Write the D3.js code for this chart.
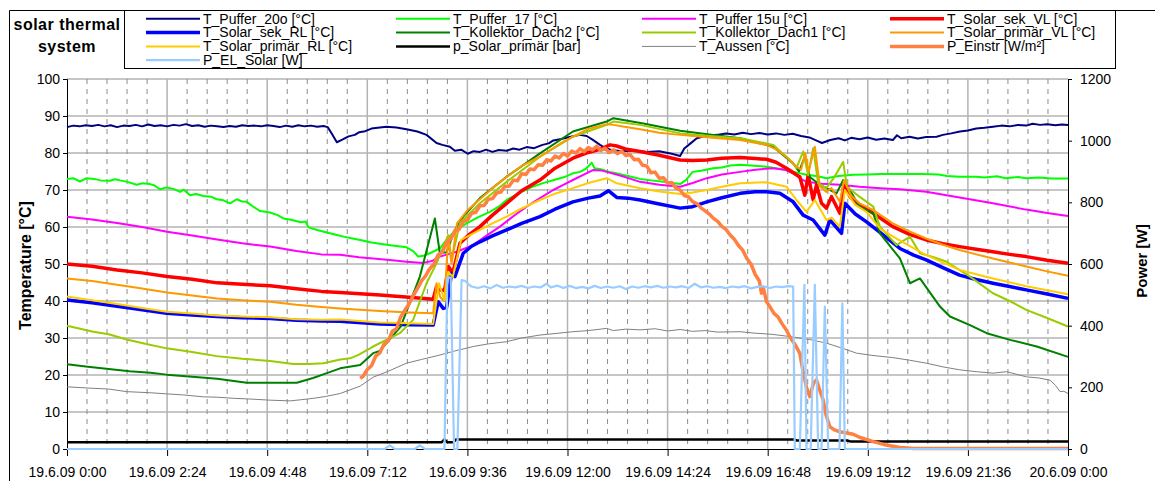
<!DOCTYPE html>
<html>
<head>
<meta charset="utf-8">
<script src="https://cdn.jsdelivr.net/npm/d3@7"></script>
<style>
  body { margin: 0; background: #fff; }
  svg { display: block; font-family: "Liberation Sans", Arial, sans-serif; }
</style>
</head>
<body>
<svg id="chart" width="1155" height="481"></svg>
<script>
// ---- measurement data, 19.6.09 (hour of day, value) ----
const tPuffer20o = [[0,87.0],[0.15,87.4],[0.3,87.2],[0.45,87.5],[0.6,87.3],[0.75,87.6],[0.9,87.2],[1.05,87.5],[1.2,87.0],[1.35,87.4],[1.5,87.3],[1.65,87.6],[1.8,87.2],[1.95,87.7],[2.1,87.3],[2.25,87.5],[2.4,87.2],[2.55,87.6],[2.7,87.4],[2.85,87.8],[3.0,87.3],[3.15,87.5],[3.3,87.1],[3.45,87.4],[3.6,87.2],[3.75,87.0],[3.9,87.3],[4.05,87.1],[4.2,87.5],[4.35,87.3],[4.5,87.4],[4.65,87.2],[4.8,87.5],[4.95,87.3],[5.1,87.0],[5.25,87.4],[5.4,87.1],[5.55,87.5],[5.7,87.2],[5.85,87.4],[6.0,87.1],[6.15,87.3],[6.25,87.0],[6.35,85.2],[6.47,82.9],[6.6,83.6],[6.75,84.5],[6.9,84.9],[7.0,85.6],[7.15,85.9],[7.3,86.6],[7.45,86.8],[7.66,87.1],[7.9,86.9],[8.14,86.4],[8.4,85.8],[8.62,84.9],[8.86,82.7],[9.0,82.2],[9.18,81.7],[9.3,80.6],[9.45,80.9],[9.61,79.8],[9.75,80.5],[9.9,80.3],[10.05,80.9],[10.2,80.3],[10.35,80.8],[10.54,80.6],[10.7,81.2],[10.85,80.9],[11.02,81.6],[11.2,81.3],[11.4,82.2],[11.55,82.6],[11.66,83.4],[11.85,83.8],[12.0,84.2],[12.13,84.5],[12.3,84.9],[12.46,84.6],[12.6,83.6],[12.78,82.2],[12.9,81.4],[13.05,80.8],[13.3,80.5],[13.6,80.7],[13.9,80.3],[14.2,80.5],[14.5,79.8],[14.7,79.2],[14.8,81.2],[14.95,82.6],[15.1,84.0],[15.3,84.6],[15.58,84.9],[15.8,85.3],[16.0,85.0],[16.2,85.5],[16.4,85.1],[16.6,85.4],[16.8,85.0],[17.0,85.3],[17.2,84.9],[17.4,85.2],[17.6,84.6],[17.8,84.2],[18.0,83.2],[18.1,82.7],[18.3,83.5],[18.5,84.0],[18.65,83.4],[18.8,84.1],[19.0,83.7],[19.2,84.2],[19.4,83.6],[19.6,83.9],[19.8,83.5],[19.9,84.8],[20.0,84.0],[20.2,84.4],[20.4,83.9],[20.6,84.3],[20.85,84.4],[21.0,84.9],[21.2,85.3],[21.41,85.8],[21.6,86.1],[21.8,86.6],[22.0,86.8],[22.2,87.1],[22.4,87.4],[22.6,87.2],[22.8,87.6],[23.0,87.4],[23.15,87.9],[23.33,87.6],[23.5,87.8],[23.7,87.5],[23.85,87.7],[24,87.6]];

const tPuffer17 = [[0,73.0],[0.15,73.2],[0.31,72.3],[0.47,73.2],[0.65,73.0],[0.8,72.6],[1.03,72.5],[1.15,72.9],[1.27,72.6],[1.45,72.2],[1.67,71.4],[1.8,71.8],[1.99,71.6],[2.1,71.2],[2.23,70.2],[2.39,70.7],[2.55,70.3],[2.71,69.5],[2.8,70.1],[2.95,68.6],[3.1,68.9],[3.27,68.4],[3.45,68.2],[3.59,67.5],[3.75,67.2],[3.91,66.4],[4.07,67.5],[4.2,66.9],[4.31,66.8],[4.45,65.6],[4.63,64.3],[4.87,63.9],[5.05,63.2],[5.19,62.3],[5.4,61.9],[5.6,61.3],[5.72,61.5],[5.79,59.9],[6.0,59.2],[6.23,58.5],[6.45,57.9],[6.63,57.4],[6.85,56.9],[7.03,56.5],[7.3,55.8],[7.5,55.5],[7.8,55.0],[8.14,54.5],[8.3,53.5],[8.42,52.0],[8.55,52.2],[8.7,52.9],[8.94,54.2],[9.1,56.5],[9.3,59.0],[9.58,61.0],[9.85,62.6],[10.14,64.1],[10.35,65.5],[10.54,67.3],[10.85,69.2],[11.17,70.9],[11.45,72.0],[11.74,72.9],[11.95,73.6],[12.13,74.5],[12.3,74.9],[12.45,75.8],[12.58,77.4],[12.65,75.9],[12.8,75.6],[13.0,74.9],[13.18,74.5],[13.45,73.8],[13.74,73.0],[14.0,72.6],[14.3,72.2],[14.7,71.6],[14.85,72.8],[15.0,74.9],[15.2,75.2],[15.49,75.9],[15.7,76.1],[15.9,76.6],[16.14,76.8],[16.4,76.6],[16.77,76.3],[17.0,75.9],[17.25,75.4],[17.5,74.7],[17.73,74.1],[18.0,73.7],[18.21,73.2],[18.5,73.8],[18.85,74.1],[19.2,74.2],[19.5,74.3],[20.0,74.3],[20.5,74.3],[20.9,74.2],[21.1,73.8],[21.4,73.6],[21.8,73.6],[22.0,73.4],[22.3,73.7],[22.5,73.2],[22.8,73.5],[23.0,73.2],[23.3,73.4],[23.6,73.1],[24,73.1]];

const tPuffer15u = [[0,62.8],[0.6,62.0],[1.2,61.1],[1.8,60.0],[2.4,58.7],[3.0,57.7],[3.6,56.6],[4.2,55.6],[4.87,54.7],[5.5,53.5],[6.1,52.6],[6.55,52.5],[7.0,51.8],[7.34,51.5],[7.8,51.0],[8.14,50.6],[8.54,50.3],[8.75,50.8],[8.94,52.0],[9.34,53.3],[9.74,55.1],[10.05,57.6],[10.38,60.1],[10.7,62.9],[11.02,65.5],[11.35,67.9],[11.66,70.0],[11.9,71.4],[12.13,72.7],[12.4,74.2],[12.61,75.4],[12.8,75.3],[12.94,74.9],[13.3,73.8],[13.74,72.2],[14.2,71.4],[14.7,70.9],[15.0,71.9],[15.34,73.2],[15.7,74.2],[16.14,74.9],[16.5,75.5],[16.93,75.9],[17.2,75.5],[17.41,74.5],[17.6,73.0],[17.73,72.2],[18.1,71.7],[18.53,71.4],[19.0,70.9],[19.5,70.5],[19.97,70.2],[20.6,69.5],[21.4,68.0],[22.2,66.4],[23.0,64.7],[23.5,63.8],[24,63.0]];

const tSolarSekVL = [[0,50.0],[0.6,49.4],[1.2,48.4],[1.8,47.6],[2.4,46.6],[3.0,45.9],[3.6,44.9],[4.2,44.5],[4.87,44.1],[5.5,43.3],[6.1,42.6],[6.55,42.3],[7.5,41.6],[8.2,41.0],[8.78,40.5],[8.86,43.9],[8.95,43.0],[9.05,42.8],[9.15,49.3],[9.25,47.5],[9.42,55.6],[9.65,58.0],[9.9,60.1],[10.2,63.2],[10.54,66.4],[10.9,69.8],[11.34,72.7],[11.7,75.9],[12.13,78.6],[12.45,80.0],[12.78,81.0],[13.02,82.2],[13.18,81.9],[13.42,81.0],[13.74,80.4],[14.2,79.4],[14.7,78.1],[15.0,78.0],[15.34,78.1],[15.7,78.6],[16.14,78.8],[16.5,78.5],[16.77,78.3],[17.0,77.5],[17.25,75.9],[17.49,74.1],[17.57,73.6],[17.69,68.6],[17.77,74.0],[17.89,67.3],[17.97,71.4],[18.09,66.4],[18.21,65.1],[18.33,68.2],[18.53,63.7],[18.63,71.8],[18.77,68.2],[19.0,66.0],[19.33,63.7],[19.8,60.1],[20.2,58.0],[20.6,56.5],[21.0,55.5],[21.4,54.7],[21.8,54.0],[22.2,53.3],[22.6,52.6],[23.0,52.0],[23.5,51.0],[24,50.2]];

const tSolarSekRL = [[0,40.3],[0.6,39.5],[1.2,38.6],[1.8,37.6],[2.39,36.7],[3.0,36.2],[3.6,35.8],[4.2,35.5],[4.87,35.3],[5.5,34.8],[6.1,34.6],[6.55,34.5],[7.5,33.8],[8.2,33.6],[8.78,33.5],[8.9,39.8],[9.02,38.0],[9.1,38.2],[9.22,47.5],[9.3,46.6],[9.5,52.9],[9.7,54.8],[9.9,56.0],[10.2,57.6],[10.54,59.2],[10.9,61.0],[11.34,62.8],[11.7,64.8],[12.13,66.8],[12.5,67.8],[12.78,68.4],[12.98,69.8],[13.18,68.0],[13.45,67.8],[13.74,67.3],[14.2,66.2],[14.7,65.1],[15.0,65.5],[15.34,66.8],[15.7,67.9],[16.14,69.1],[16.5,69.5],[16.77,69.5],[17.09,69.1],[17.41,66.8],[17.65,63.2],[17.89,61.9],[18.17,57.8],[18.29,61.9],[18.57,58.3],[18.65,66.4],[18.9,63.5],[19.17,61.4],[19.5,58.5],[19.97,54.2],[20.3,52.4],[20.6,51.1],[21.0,49.0],[21.4,47.0],[21.8,45.8],[22.2,44.8],[22.6,43.9],[23.0,43.0],[23.5,41.9],[24,40.7]];

const tKollektorDach2 = [[0,22.9],[0.5,22.2],[1.0,21.6],[1.5,21.0],[2.0,20.6],[2.39,20.1],[3.0,19.5],[3.6,19.0],[4.31,17.9],[5.0,17.9],[5.51,17.9],[5.9,19.2],[6.23,20.5],[6.55,21.8],[7.03,22.7],[7.34,25.9],[7.5,26.5],[8.0,33.1],[8.46,46.6],[8.82,62.3],[8.94,52.9],[9.1,53.2],[9.3,59.2],[9.5,62.8],[9.9,67.8],[10.54,73.6],[11.34,79.9],[12.13,85.8],[12.94,88.5],[13.1,89.4],[13.82,88.0],[14.7,86.0],[15.4,85.0],[16.14,84.0],[16.93,81.7],[17.41,77.2],[17.55,75.0],[17.69,79.0],[17.81,73.5],[18.05,71.4],[18.3,70.0],[18.45,69.1],[18.61,72.7],[18.77,70.0],[19.0,65.5],[19.33,63.7],[19.49,58.3],[19.97,51.5],[20.21,44.8],[20.45,46.1],[20.93,38.5],[21.17,35.8],[21.65,33.5],[22.05,31.3],[22.61,29.5],[23.25,27.7],[24,24.9]];

const tKollektorDach1 = [[0,33.3],[0.63,31.7],[1.0,31.0],[1.43,29.6],[1.9,28.4],[2.39,27.2],[3.0,26.2],[3.59,25.1],[4.2,24.4],[4.87,23.8],[5.43,23.0],[5.8,23.0],[6.15,23.2],[6.55,24.2],[6.79,24.5],[7.0,25.5],[7.34,27.7],[7.98,31.3],[8.3,34.9],[8.62,44.8],[8.86,50.2],[9.14,57.8],[9.22,51.1],[9.42,61.0],[9.9,66.4],[10.54,72.2],[11.34,79.0],[12.13,84.4],[12.94,87.6],[13.1,88.5],[13.74,87.6],[14.7,85.3],[15.4,84.6],[16.14,84.0],[16.93,82.2],[17.33,78.1],[17.49,76.0],[17.65,80.4],[17.77,74.0],[17.89,81.3],[18.01,71.8],[18.2,70.5],[18.37,73.0],[18.61,77.6],[18.7,70.9],[19.0,68.2],[19.33,65.5],[19.49,60.1],[19.89,55.1],[20.21,57.4],[20.45,52.9],[20.8,51.8],[21.09,50.6],[21.65,46.6],[22.2,42.1],[22.6,40.0],[23.0,37.6],[23.5,35.4],[24,33.1]];

const tSolarPrimaerVL = [[0,46.1],[0.6,45.4],[1.2,44.4],[1.8,43.4],[2.4,42.3],[3.0,41.5],[3.6,40.7],[4.2,40.2],[4.87,39.8],[5.5,39.0],[6.1,38.4],[6.55,38.0],[7.5,37.3],[8.2,36.9],[8.78,36.7],[8.86,44.8],[8.95,41.0],[9.05,40.0],[9.14,57.4],[9.22,50.0],[9.35,61.0],[9.6,64.5],[9.9,67.5],[10.2,70.5],[10.54,73.5],[10.9,76.5],[11.34,79.0],[11.82,82.5],[12.13,84.4],[12.5,86.5],[12.94,87.8],[13.1,87.6],[13.4,87.0],[13.74,86.4],[14.2,85.5],[14.7,84.9],[15.4,84.2],[16.14,83.5],[16.77,82.2],[17.0,81.0],[17.25,79.0],[17.49,76.3],[17.6,75.5],[17.7,80.0],[17.78,75.0],[17.93,81.7],[18.05,71.0],[18.2,69.5],[18.33,70.5],[18.53,66.8],[18.63,72.7],[18.8,68.5],[19.0,66.4],[19.33,64.6],[19.8,61.0],[20.2,58.8],[20.6,56.9],[21.0,55.2],[21.4,53.8],[21.8,52.6],[22.2,51.5],[22.6,50.4],[23.0,49.3],[23.5,48.0],[24,46.8]];

const tSolarPrimaerRL = [[0,41.2],[0.6,40.2],[1.2,39.2],[1.8,38.1],[2.39,37.1],[3.0,36.6],[3.6,36.1],[4.2,35.8],[4.87,35.6],[5.5,35.1],[6.1,34.9],[6.55,35.0],[7.5,34.2],[8.2,34.0],[8.78,33.8],[8.92,44.8],[9.05,40.3],[9.14,47.9],[9.25,46.5],[9.45,56.5],[9.9,59.2],[10.2,61.0],[10.54,62.8],[10.9,65.0],[11.34,67.3],[11.7,69.0],[12.13,70.5],[12.5,71.9],[12.94,73.2],[13.18,71.8],[13.74,70.5],[14.2,69.6],[14.7,68.9],[15.0,69.3],[15.34,70.0],[15.7,70.9],[16.14,71.8],[16.77,72.1],[17.25,70.9],[17.49,67.3],[17.73,64.1],[17.93,67.3],[18.21,61.9],[18.33,62.5],[18.53,60.1],[18.65,70.0],[18.9,66.0],[19.17,64.1],[19.5,59.5],[19.9,56.8],[20.6,52.4],[21.4,48.4],[22.2,46.1],[23.0,44.0],[23.5,42.9],[24,41.8]];

const pSolarPrimaer = [[0,1.8],[8.98,1.8],[9.05,2.6],[9.12,1.8],[9.26,1.8],[9.33,2.6],[17.43,2.6],[17.5,2.3],[18.7,2.3],[18.8,2.0],[24,2.0]];

const tAussen = [[0,16.8],[0.63,16.4],[1.0,16.2],[1.43,15.5],[2.0,15.2],[2.39,14.9],[2.8,14.6],[3.27,14.1],[3.6,14.0],[3.99,13.7],[4.4,13.5],[4.87,13.2],[5.35,13.0],[5.6,13.3],[5.91,13.7],[6.2,14.2],[6.55,15.0],[7.03,17.0],[7.34,19.4],[7.7,21.0],[8.14,23.2],[8.5,24.2],[8.94,25.4],[9.3,26.5],[9.74,27.7],[10.1,28.4],[10.54,29.0],[10.9,30.0],[11.34,30.8],[11.7,31.2],[12.13,31.7],[12.5,32.0],[12.94,32.6],[13.1,32.0],[13.4,32.4],[13.74,32.2],[14.1,32.5],[14.4,31.9],[14.7,32.3],[15.0,31.8],[15.3,32.0],[15.6,31.6],[16.14,31.7],[16.5,31.3],[16.9,31.0],[17.33,30.4],[17.8,29.6],[18.21,28.6],[18.6,27.2],[18.93,25.9],[19.3,25.3],[19.8,24.7],[20.2,24.0],[20.6,23.2],[21.0,22.2],[21.4,21.4],[21.8,20.9],[22.2,20.5],[22.53,20.9],[22.8,20.1],[23.0,19.5],[23.3,19.2],[23.57,18.6],[23.7,17.2],[23.81,15.5],[23.9,15.6],[24,15.0]];

const pEinstr = [[7.03,229],[7.1,236],[7.2,258],[7.3,270],[7.4,301],[7.5,312],[7.6,340],[7.7,350],[7.8,382],[7.9,390],[8.0,428],[8.1,450],[8.2,470],[8.3,497],[8.4,520],[8.5,545],[8.6,562],[8.7,585],[8.8,600],[8.9,630],[9.0,638],[9.1,670],[9.2,680],[9.3,708],[9.4,712],[9.5,738],[9.6,742],[9.7,764],[9.8,768],[9.9,789],[10.0,790],[10.1,810],[10.2,812],[10.3,830],[10.4,833],[10.5,852],[10.6,852],[10.7,872],[10.8,870],[10.9,893],[11.0,890],[11.1,908],[11.2,906],[11.3,922],[11.4,920],[11.5,938],[11.6,934],[11.7,950],[11.8,944],[11.9,958],[12.0,950],[12.1,966],[12.2,960],[12.3,974],[12.4,964],[12.5,978],[12.6,970],[12.7,982],[12.8,968],[12.9,975],[13.0,962],[13.1,970],[13.2,958],[13.3,966],[13.4,952],[13.5,955],[13.6,938],[13.7,940],[13.8,920],[13.9,918],[14.0,896],[14.1,898],[14.2,878],[14.3,880],[14.4,862],[14.5,864],[14.6,846],[14.7,840],[14.8,822],[14.9,818],[15.0,802],[15.1,796],[15.2,782],[15.3,772],[15.4,762],[15.5,748],[15.6,738],[15.7,722],[15.8,712],[15.9,694],[16.0,680],[16.1,660],[16.2,645],[16.3,618],[16.4,600],[16.5,566],[16.6,545],[16.65,505],[16.7,520],[16.77,478],[16.85,462],[16.95,440],[17.05,428],[17.15,405],[17.25,385],[17.33,364],[17.45,340],[17.57,310],[17.65,250],[17.73,200],[17.81,170],[17.9,215],[17.97,224],[18.05,190],[18.13,159],[18.2,110],[18.29,72],[18.4,62],[18.53,56],[18.7,52],[18.85,48],[19.0,38],[19.33,24],[19.6,14],[19.97,5],[20.3,2],[24,2]];

const pElSolar = [[0,0],[7.62,0],[7.74,12],[7.86,0],[8.34,0],[8.46,12],[8.58,0],[9.05,0],[9.12,556],[9.2,556],[9.28,0],[9.36,0],[9.46,548],[9.55,545],[9.62,535],[9.7,527],[9.85,522],[10.0,528],[10.15,521],[10.3,532],[10.45,523],[10.6,527],[10.75,524],[10.9,529],[11.05,522],[11.2,527],[11.35,524],[11.5,536],[11.6,524],[11.75,530],[11.9,522],[12.05,529],[12.2,522],[12.35,526],[12.5,521],[12.65,529],[12.8,522],[12.95,527],[13.1,523],[13.25,528],[13.4,519],[13.55,527],[13.7,523],[13.85,528],[14.0,524],[14.15,529],[14.3,523],[14.45,527],[14.6,524],[14.75,528],[14.9,522],[15.05,536],[15.2,524],[15.35,528],[15.5,523],[15.65,526],[15.8,522],[15.95,527],[16.1,524],[16.25,528],[16.4,521],[16.55,526],[16.7,528],[16.85,522],[17.0,527],[17.15,525],[17.3,528],[17.41,527],[17.45,0],[17.57,0],[17.68,532],[17.73,0],[17.83,0],[17.93,532],[18.01,0],[18.09,0],[18.17,462],[18.25,0],[18.52,0],[18.59,472],[18.65,0],[24,0]];

// ---- axis ticks and labels ----
const tempTicks = [0,10,20,30,40,50,60,70,80,90,100];
const powerTicks = [0,200,400,600,800,1000,1200];
const timeTickHours = [0,2.4,4.8,7.2,9.6,12,14.4,16.8,19.2,21.6,24];
const timeTickLabels = ["19.6.09 0:00","19.6.09 2:24","19.6.09 4:48","19.6.09 7:12","19.6.09 9:36","19.6.09 12:00","19.6.09 14:24","19.6.09 16:48","19.6.09 19:12","19.6.09 21:36","20.6.09 0:00"];

// ---- series: label, data, axis ----
const seriesNames = ["T_Puffer_20o [°C]","T_Puffer_17 [°C]","T_Puffer 15u [°C]","T_Solar_sek_VL [°C]",
  "T_Solar_sek_RL [°C]","T_Kollektor_Dach2 [°C]","T_Kollektor_Dach1 [°C]","T_Solar_primär_VL [°C]",
  "T_Solar_primär_RL [°C]","p_Solar_primär [bar]","T_Aussen [°C]","P_Einstr [W/m²]","P_EL_Solar [W]"];
const seriesData = [tPuffer20o,tPuffer17,tPuffer15u,tSolarSekVL,tSolarSekRL,tKollektorDach2,tKollektorDach1,
  tSolarPrimaerVL,tSolarPrimaerRL,pSolarPrimaer,tAussen,pEinstr,pElSolar];
const seriesAxis = ["T","T","T","T","T","T","T","T","T","T","T","P","P"];

// ---- styles ----
const seriesColors = ["#000080","#00ff00","#ff00ff","#ff0000","#0000ff","#008000","#99cc00","#ff9900","#ffcc00","#000000","#808080","#ff8040","#99ccff"];
const seriesWidths = [2,2,2,3.5,3.5,2,2,2,2,2.5,1,3.5,2.2];

const svg = d3.select("#chart");
const P = { left: 67, right: 1068, top: 79, bottom: 449 };

const x = d3.scaleLinear().domain([0, 24]).range([P.left, P.right]);
const yT = d3.scaleLinear().domain([0, 100]).range([P.bottom, P.top]);
const yP = d3.scaleLinear().domain([0, 1200]).range([P.bottom, P.top]);

// outer frame
svg.append("path").attr("d", `M9.5,481 V10.5 H1155`).attr("fill", "none").attr("stroke", "#000").attr("stroke-width", 1);

// gridlines
const grid = svg.append("g");
tempTicks.filter(v => v > 0).forEach(v => {
  grid.append("line").attr("x1", P.left).attr("x2", P.right).attr("y1", yT(v)).attr("y2", yT(v))
    .attr("stroke", "#b3b3b3").attr("stroke-width", 1.5);
});
d3.range(1, 50).forEach(i => {
  const h = i * 0.48;
  const major = i % 5 === 0;
  grid.append("line").attr("x1", x(h)).attr("x2", x(h)).attr("y1", P.top).attr("y2", P.bottom)
    .attr("stroke", major ? "#b3b3b3" : "#8c8c8c")
    .attr("stroke-width", major ? 1.5 : 1)
    .attr("stroke-dasharray", major ? null : "5,5");
});

// axes
const axisFont = g => g.selectAll("text").attr("font-size", 14).attr("fill", "#000")
  .attr("font-family", '"Liberation Sans", Arial, sans-serif');

svg.append("g").attr("transform", `translate(${P.left},0)`)
  .call(d3.axisLeft(yT).tickValues(tempTicks).tickSize(4).tickPadding(3).tickFormat(d3.format("d")))
  .call(axisFont)
  .call(g => g.select(".domain").attr("stroke", "#000"));

svg.append("g").attr("transform", `translate(${P.right},0)`)
  .call(d3.axisRight(yP).tickValues(powerTicks).tickSize(4).tickPadding(8).tickFormat(d3.format("d")))
  .call(axisFont)
  .call(g => g.select(".domain").attr("stroke", "#000"));

svg.append("g").attr("transform", `translate(0,${P.bottom})`)
  .call(d3.axisBottom(x).tickValues(timeTickHours).tickSize(7).tickPadding(11)
    .tickFormat((d, i) => timeTickLabels[i]))
  .call(axisFont)
  .call(g => g.select(".domain").attr("stroke", "#000"));

// axis titles
svg.append("text").attr("transform", "translate(25,265.5) rotate(-90)")
  .attr("text-anchor", "middle").attr("dy", "0.35em")
  .attr("font-size", 16).attr("font-weight", "bold").text("Temperature [°C]");
svg.append("text").attr("transform", "translate(1142,261) rotate(-90)")
  .attr("text-anchor", "middle").attr("dy", "0.35em")
  .attr("font-size", 15).attr("font-weight", "bold").text("Power [W]");

// series lines
const lines = svg.append("g").attr("fill", "none").attr("stroke-linejoin", "round");
seriesData.forEach((data, i) => {
  const yS = seriesAxis[i] === "P" ? yP : yT;
  const line = d3.line().x(d => x(d[0])).y(d => yS(d[1]));
  lines.append("path").datum(data).attr("d", line)
    .attr("stroke", seriesColors[i]).attr("stroke-width", seriesWidths[i]);
});

// legend
const legend = svg.append("g");
legend.append("rect").attr("x", 124.5).attr("y", 10.5).attr("width", 991).attr("height", 58)
  .attr("fill", "#fff").attr("stroke", "#000").attr("stroke-width", 1);
const legCols = [146, 396, 642, 890];
const legRows = [23.5, 37.3, 51.1, 64.9];
seriesNames.forEach((name, i) => {
  const cx = legCols[i % 4], by = legRows[Math.floor(i / 4)];
  legend.append("line").attr("x1", cx).attr("x2", cx + 54).attr("y1", by - 4.7).attr("y2", by - 4.7)
    .attr("stroke", seriesColors[i]).attr("stroke-width", seriesWidths[i]);
  legend.append("text").attr("x", cx + 57).attr("y", by).attr("font-size", 14).text(name);
});

// chart title block
svg.append("text").attr("x", 67).attr("y", 30).attr("text-anchor", "middle")
  .attr("font-size", 16).attr("font-weight", "bold").attr("letter-spacing", 0.5).text("solar thermal");
svg.append("text").attr("x", 67).attr("y", 52).attr("text-anchor", "middle")
  .attr("font-size", 16).attr("font-weight", "bold").attr("letter-spacing", 0.5).text("system");
</script>
</body>
</html>
